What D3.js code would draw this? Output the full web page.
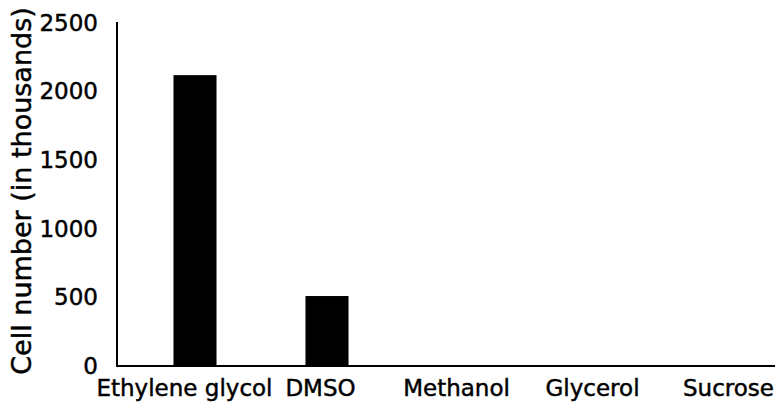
<!DOCTYPE html>
<html>
<head>
<meta charset="utf-8">
<script src="https://cdn.jsdelivr.net/npm/d3@7"></script>
<style>
  html, body { margin: 0; padding: 0; background: #fff; }
  svg { display: block; }
  text { font-family: "DejaVu Sans", sans-serif; fill: #000; stroke: #000; stroke-width: 0.45px; }
</style>
</head>
<body>
<svg id="chart" width="775" height="417"></svg>
<script>
const categories = ["Ethylene glycol", "DMSO", "Methanol", "Glycerol", "Sucrose"];
const values = [2120, 510, 0, 0, 0];
const yTicks = [0, 500, 1000, 1500, 2000, 2500];
const yTitle = "Cell number (in thousands)";

const svg = d3.select("#chart");
const x0 = 117, yBase = 366, yTop = 23;

const x = d3.scaleBand().domain(categories).range([129, 789]).paddingInner(0.674).paddingOuter(0.337);
const xLabel = d3.scalePoint().domain(categories).range([184, 728]);
const y = d3.scaleLinear().domain([0, 2500]).range([yBase, yTop]);

// bars
svg.append("g").selectAll("rect").data(values).join("rect")
  .attr("x", (d, i) => x(categories[i]))
  .attr("y", d => y(d))
  .attr("width", x.bandwidth())
  .attr("height", d => yBase - y(d))
  .attr("fill", "#000");

// y axis
const yAxis = d3.axisLeft(y).tickValues(yTicks).tickSize(0).tickPadding(19).tickFormat(d3.format("d"));
const gy = svg.append("g").attr("transform", `translate(${x0},0)`).call(yAxis);
gy.select(".domain").remove();
gy.selectAll("text").style("font-size", "23px").style("font-family", "DejaVu Sans, sans-serif");
svg.append("line").attr("x1", x0).attr("x2", x0).attr("y1", 22).attr("y2", yBase + 1)
  .attr("stroke", "#000").attr("stroke-width", 2);

// x axis
const xAxis = d3.axisBottom(xLabel).tickSize(0).tickPadding(14);
const gx = svg.append("g").attr("transform", `translate(0,${yBase})`).call(xAxis);
gx.select(".domain").remove();
gx.selectAll("text").style("font-size", "23px").style("font-family", "DejaVu Sans, sans-serif");
svg.append("line").attr("x1", x0 - 1).attr("x2", 775).attr("y1", yBase).attr("y2", yBase)
  .attr("stroke", "#000").attr("stroke-width", 2);

// y title
svg.append("text")
  .attr("transform", "translate(21,191) rotate(-90)")
  .attr("text-anchor", "middle")
  .attr("dominant-baseline", "central")
  .style("font-size", "27px")
  .text(yTitle);
</script>
</body>
</html>
